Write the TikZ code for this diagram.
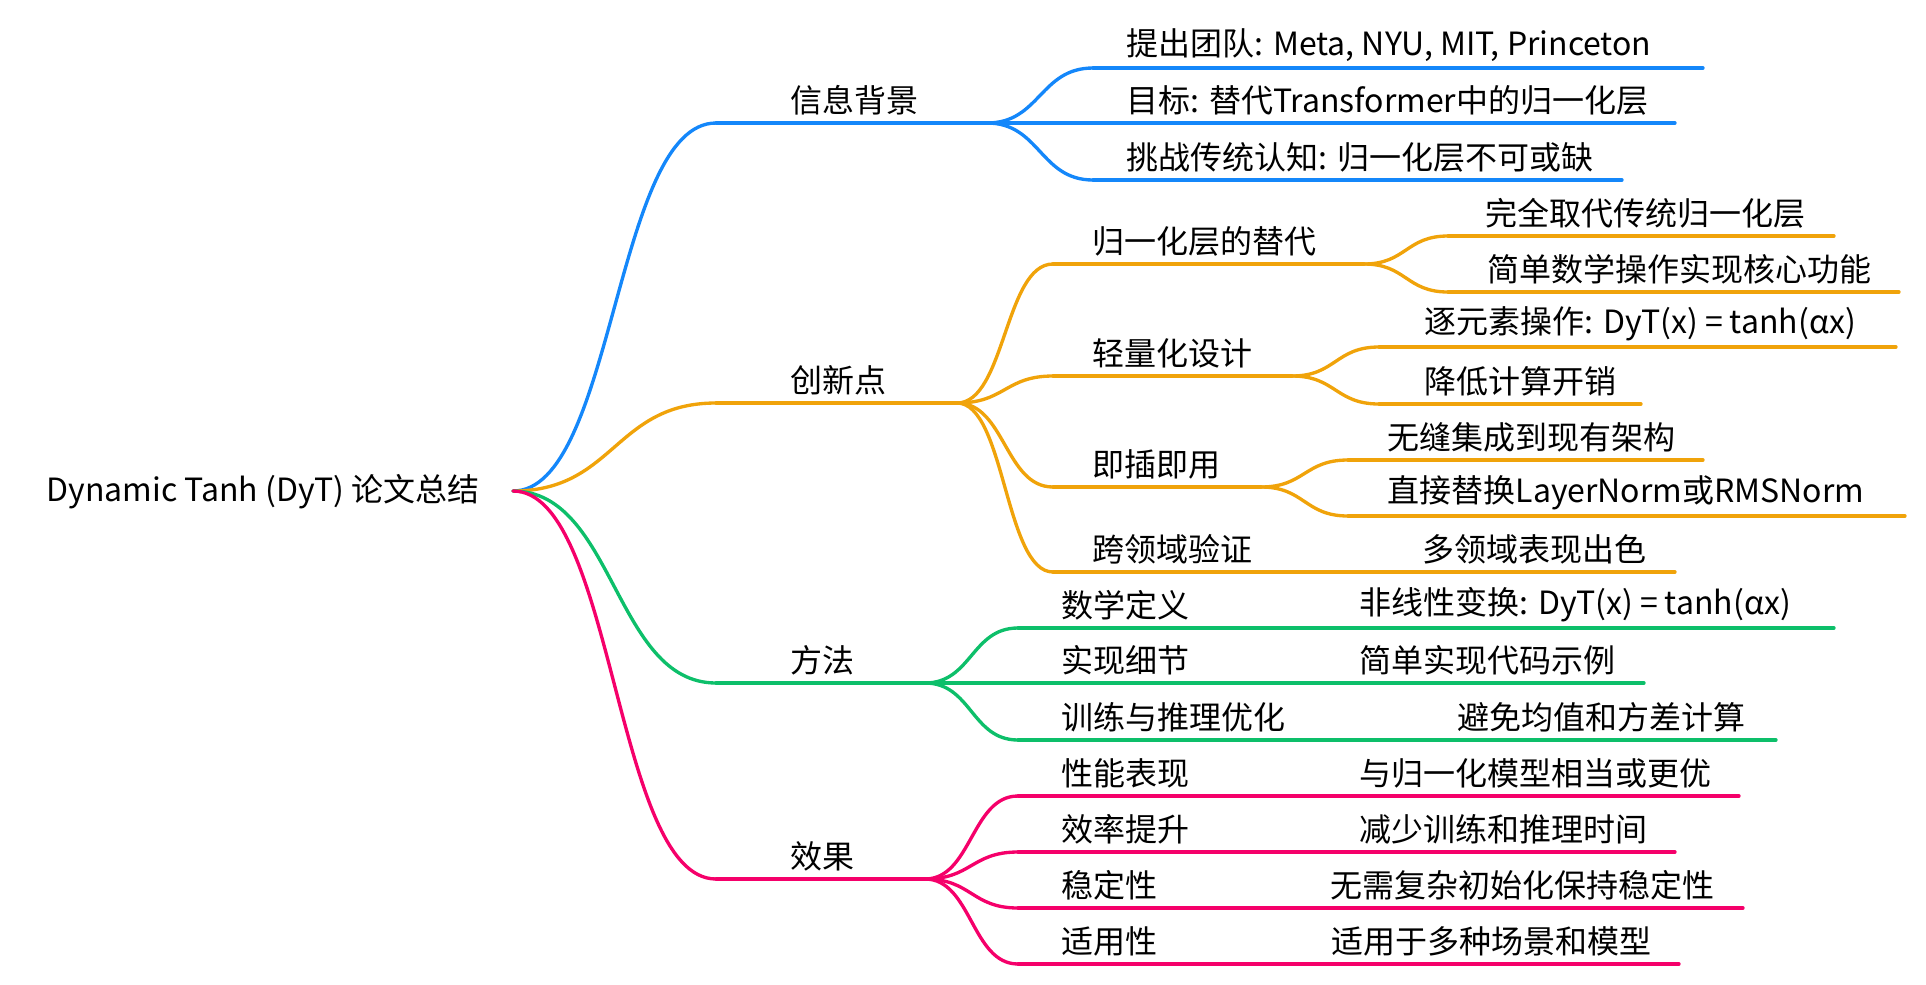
\documentclass[tikz,border=0pt]{standalone}
\usepackage{fontspec}
\setmainfont{Noto Sans CJK SC}
\usetikzlibrary{calc}
\definecolor{infoblue}{HTML}{1487FA}
\definecolor{innovorange}{HTML}{F0A30A}
\definecolor{methodgreen}{HTML}{0DBF6A}
\definecolor{effectpink}{HTML}{F5006A}
\tikzset{
  lbl/.style={anchor=west, inner sep=0pt, font=\fontsize{9.1}{10}\selectfont},
  branch/.style={line width=0.95pt, line cap=round},
  link/.style={branch, to path={let \p1=(\tikztostart), \p2=(\tikztotarget) in
    .. controls ({(\x1+\x2)/2},\y1) and ({(\x1+\x2)/2},\y2) .. (\tikztotarget)}}
}
\begin{document}
\begin{tikzpicture}[x=0.01cm,y=-0.01cm]
\useasboundingbox (0,0) rectangle (1926,984);
\node[lbl] (root) at (46,492) {Dynamic Tanh (DyT) 论文总结};
\coordinate (root-e) at (513,491);

\coordinate (info-s) at (716,123); \coordinate (info-e) at (987,123);
\node[lbl] (info) at (790,100) {信息背景};
\coordinate (team-s) at (1093,68); \coordinate (team-e) at (1703,68);
\node[lbl] (team) at (1126,45) {提出团队: Meta, NYU, MIT, Princeton};
\coordinate (goal-s) at (1093,123); \coordinate (goal-e) at (1675,123);
\node[lbl] (goal) at (1126,100) {目标: 替代Transformer中的归一化层};
\coordinate (chal-s) at (1093,180); \coordinate (chal-e) at (1622,180);
\node[lbl] (chal) at (1126,157) {挑战传统认知: 归一化层不可或缺};

\coordinate (innov-s) at (716,403); \coordinate (innov-e) at (957,403);
\node[lbl] (innov) at (790,380) {创新点};
\coordinate (repl-s) at (1053,264); \coordinate (repl-e) at (1364,264);
\node[lbl] (repl) at (1092,241) {归一化层的替代};
\coordinate (full-s) at (1448,236); \coordinate (full-e) at (1834,236);
\node[lbl] (full) at (1485,213) {完全取代传统归一化层};
\coordinate (simple-s) at (1448,292); \coordinate (simple-e) at (1899,292);
\node[lbl] (simple) at (1487,269) {简单数学操作实现核心功能};
\coordinate (light-s) at (1053,376); \coordinate (light-e) at (1292,376);
\node[lbl] (light) at (1092,353) {轻量化设计};
\coordinate (elem-s) at (1379,347); \coordinate (elem-e) at (1896,347);
\node[lbl] (elem) at (1424,324) {逐元素操作: DyT(x) = tanh(αx)};
\coordinate (cost-s) at (1379,404); \coordinate (cost-e) at (1641,404);
\node[lbl] (cost) at (1424,381) {降低计算开销};
\coordinate (plug-s) at (1053,487); \coordinate (plug-e) at (1261,487);
\node[lbl] (plug) at (1092,464) {即插即用};
\coordinate (integ-s) at (1348,460); \coordinate (integ-e) at (1703,460);
\node[lbl] (integ) at (1387,437) {无缝集成到现有架构};
\coordinate (swap-s) at (1348,516); \coordinate (swap-e) at (1905,516);
\node[lbl] (swap) at (1387,493) {直接替换LayerNorm或RMSNorm};
\coordinate (cross-s) at (1053,572); \coordinate (cross-e) at (1292,572);
\node[lbl] (cross) at (1092,549) {跨领域验证};
\coordinate (multi-s) at (1379,572); \coordinate (multi-e) at (1675,572);
\node[lbl] (multi) at (1422,549) {多领域表现出色};

\coordinate (method-s) at (716,683); \coordinate (method-e) at (925,683);
\node[lbl] (method) at (790,660) {方法};
\coordinate (math-s) at (1018,628); \coordinate (math-e) at (1236,628);
\node[lbl] (math) at (1061,605) {数学定义};
\coordinate (nonlin-s) at (1321,628); \coordinate (nonlin-e) at (1834,628);
\node[lbl] (nonlin) at (1359,605) {非线性变换: DyT(x) = tanh(αx)};
\coordinate (impl-s) at (1018,683); \coordinate (impl-e) at (1236,683);
\node[lbl] (impl) at (1061,660) {实现细节};
\coordinate (code-s) at (1321,683); \coordinate (code-e) at (1644,683);
\node[lbl] (code) at (1359,660) {简单实现代码示例};
\coordinate (train-s) at (1018,740); \coordinate (train-e) at (1330,740);
\node[lbl] (train) at (1061,717) {训练与推理优化};
\coordinate (avoid-s) at (1419,740); \coordinate (avoid-e) at (1776,740);
\node[lbl] (avoid) at (1457,717) {避免均值和方差计算};

\coordinate (effect-s) at (716,879); \coordinate (effect-e) at (925,879);
\node[lbl] (effect) at (790,856) {效果};
\coordinate (perf-s) at (1018,796); \coordinate (perf-e) at (1236,796);
\node[lbl] (perf) at (1061,773) {性能表现};
\coordinate (match-s) at (1321,796); \coordinate (match-e) at (1739,796);
\node[lbl] (match) at (1359,773) {与归一化模型相当或更优};
\coordinate (speed-s) at (1018,852); \coordinate (speed-e) at (1236,852);
\node[lbl] (speed) at (1061,829) {效率提升};
\coordinate (time-s) at (1321,852); \coordinate (time-e) at (1675,852);
\node[lbl] (time) at (1359,829) {减少训练和推理时间};
\coordinate (stab-s) at (1018,908); \coordinate (stab-e) at (1204,908);
\node[lbl] (stab) at (1061,885) {稳定性};
\coordinate (init-s) at (1292,908); \coordinate (init-e) at (1743,908);
\node[lbl] (init) at (1330,885) {无需复杂初始化保持稳定性};
\coordinate (appl-s) at (1018,964); \coordinate (appl-e) at (1204,964);
\node[lbl] (appl) at (1061,941) {适用性};
\coordinate (scene-s) at (1292,964); \coordinate (scene-e) at (1679,964);
\node[lbl] (scene) at (1331,941) {适用于多种场景和模型};

\draw[infoblue,branch] (info-s) -- (info-e) (team-s) -- (team-e) (goal-s) -- (goal-e) (chal-s) -- (chal-e);
\draw[infoblue,link] (root-e) to (info-s);
\draw[infoblue,link] (info-e) to (team-s);
\draw[infoblue,link] (info-e) to (goal-s);
\draw[infoblue,link] (info-e) to (chal-s);

\draw[innovorange,branch] (innov-s) -- (innov-e) (repl-s) -- (repl-e) (full-s) -- (full-e)
  (simple-s) -- (simple-e) (light-s) -- (light-e) (elem-s) -- (elem-e) (cost-s) -- (cost-e)
  (plug-s) -- (plug-e) (integ-s) -- (integ-e) (swap-s) -- (swap-e) (cross-s) -- (cross-e) (multi-s) -- (multi-e);
\draw[innovorange,link] (root-e) to (innov-s);
\draw[innovorange,link] (innov-e) to (repl-s);
\draw[innovorange,link] (innov-e) to (light-s);
\draw[innovorange,link] (innov-e) to (plug-s);
\draw[innovorange,link] (innov-e) to (cross-s);
\draw[innovorange,link] (repl-e) to (full-s);
\draw[innovorange,link] (repl-e) to (simple-s);
\draw[innovorange,link] (light-e) to (elem-s);
\draw[innovorange,link] (light-e) to (cost-s);
\draw[innovorange,link] (plug-e) to (integ-s);
\draw[innovorange,link] (plug-e) to (swap-s);
\draw[innovorange,link] (cross-e) to (multi-s);

\draw[methodgreen,branch] (method-s) -- (method-e) (math-s) -- (math-e) (nonlin-s) -- (nonlin-e)
  (impl-s) -- (impl-e) (code-s) -- (code-e) (train-s) -- (train-e) (avoid-s) -- (avoid-e);
\draw[methodgreen,link] (root-e) to (method-s);
\draw[methodgreen,link] (method-e) to (math-s);
\draw[methodgreen,link] (method-e) to (impl-s);
\draw[methodgreen,link] (method-e) to (train-s);
\draw[methodgreen,link] (math-e) to (nonlin-s);
\draw[methodgreen,link] (impl-e) to (code-s);
\draw[methodgreen,link] (train-e) to (avoid-s);

\draw[effectpink,branch] (effect-s) -- (effect-e) (perf-s) -- (perf-e) (match-s) -- (match-e)
  (speed-s) -- (speed-e) (time-s) -- (time-e) (stab-s) -- (stab-e) (init-s) -- (init-e)
  (appl-s) -- (appl-e) (scene-s) -- (scene-e);
\draw[effectpink,link] (root-e) to (effect-s);
\draw[effectpink,link] (effect-e) to (perf-s);
\draw[effectpink,link] (effect-e) to (speed-s);
\draw[effectpink,link] (effect-e) to (stab-s);
\draw[effectpink,link] (effect-e) to (appl-s);
\draw[effectpink,link] (perf-e) to (match-s);
\draw[effectpink,link] (speed-e) to (time-s);
\draw[effectpink,link] (stab-e) to (init-s);
\draw[effectpink,link] (appl-e) to (scene-s);
\end{tikzpicture}
\end{document}
